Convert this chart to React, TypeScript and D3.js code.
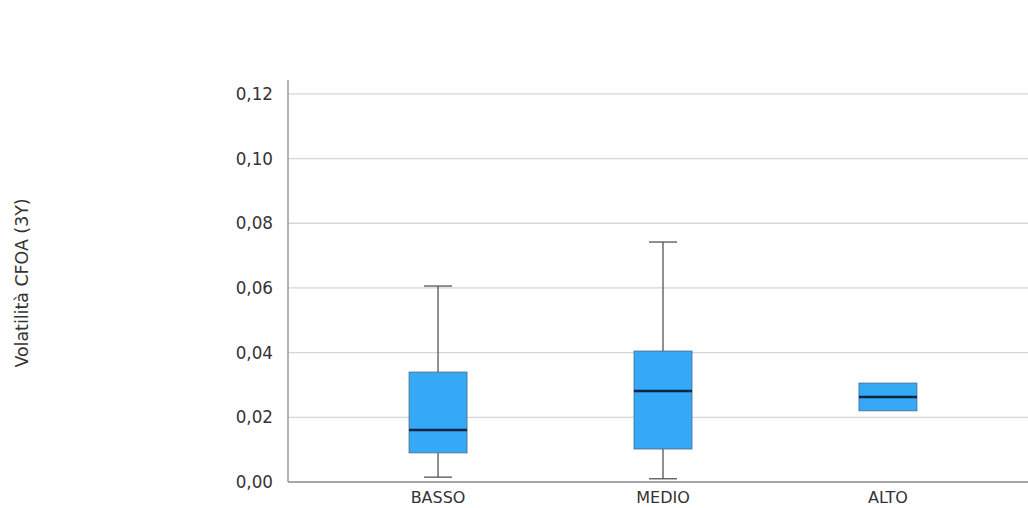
import React from "react";
import * as d3 from "d3";

const categories = ["BASSO", "MEDIO", "ALTO"];
const whiskerLow = [0.0015, 0.001, 0.022];
const q1Values = [0.009, 0.0102, 0.022];
const medianValues = [0.0161, 0.0281, 0.0263];
const q3Values = [0.034, 0.0405, 0.0306];
const whiskerHigh = [0.0606, 0.0742, 0.0306];
const yTicks = [0, 0.02, 0.04, 0.06, 0.08, 0.1, 0.12];
const yTitle = "Volatilità CFOA (3Y)";

export default function App() {
  const W = 1028, H = 508;
  const left = 288, bottom = 482, top = 80;
  const y = d3.scaleLinear().domain([0, 0.1243]).range([bottom, top]);
  const x = d3.scalePoint<string>().domain(categories).range([left, 1038]).padding(0.667);
  const boxW = 58, capW = 28;
  const fmt = (v: number) => v.toFixed(2).replace(".", ",");
  const font = "DejaVu Sans, sans-serif";
  return (
    <svg width={W} height={H} style={{ position: "absolute", left: 0, top: 0, background: "#fff" }}>
      {yTicks.map((t) => (
        <g key={t}>
          {t > 0 && <line x1={left} x2={W} y1={y(t)} y2={y(t)} stroke="#d6d6d6" strokeWidth={1.3} />}
          <text x={273} y={y(t)} dy="0.36em" textAnchor="end" fontFamily={font} fontSize={16.8} fill="#333">
            {fmt(t)}
          </text>
        </g>
      ))}
      <line x1={left} x2={left} y1={top} y2={bottom} stroke="#8a8a8a" strokeWidth={1.3} />
      <line x1={left} x2={W} y1={bottom} y2={bottom} stroke="#8a8a8a" strokeWidth={1.3} />
      {categories.map((c, i) => {
        const cx = x(c)!;
        return (
          <g key={c}>
            <line x1={cx} x2={cx} y1={y(whiskerHigh[i])} y2={y(q3Values[i])} stroke="#555" strokeWidth={1.3} />
            <line x1={cx} x2={cx} y1={y(q1Values[i])} y2={y(whiskerLow[i])} stroke="#555" strokeWidth={1.3} />
            {whiskerHigh[i] > q3Values[i] && (
              <line x1={cx - capW / 2} x2={cx + capW / 2} y1={y(whiskerHigh[i])} y2={y(whiskerHigh[i])} stroke="#555" strokeWidth={1.3} />
            )}
            {whiskerLow[i] < q1Values[i] && (
              <line x1={cx - capW / 2} x2={cx + capW / 2} y1={y(whiskerLow[i])} y2={y(whiskerLow[i])} stroke="#555" strokeWidth={1.3} />
            )}
            <rect x={cx - boxW / 2} y={y(q3Values[i])} width={boxW} height={y(q1Values[i]) - y(q3Values[i])} fill="#35a9f5" stroke="#4a6a85" strokeWidth={0.8} />
            <line x1={cx - boxW / 2} x2={cx + boxW / 2} y1={y(medianValues[i])} y2={y(medianValues[i])} stroke="#0d2440" strokeWidth={2.5} />
            <text x={cx} y={503} textAnchor="middle" fontFamily={font} fontSize={16} fill="#333">
              {c}
            </text>
          </g>
        );
      })}
      <text transform={`translate(22,283) rotate(-90)`} textAnchor="middle" dy="0.36em" fontFamily={font} fontSize={17.4} fill="#333">
        {yTitle}
      </text>
    </svg>
  );
}
